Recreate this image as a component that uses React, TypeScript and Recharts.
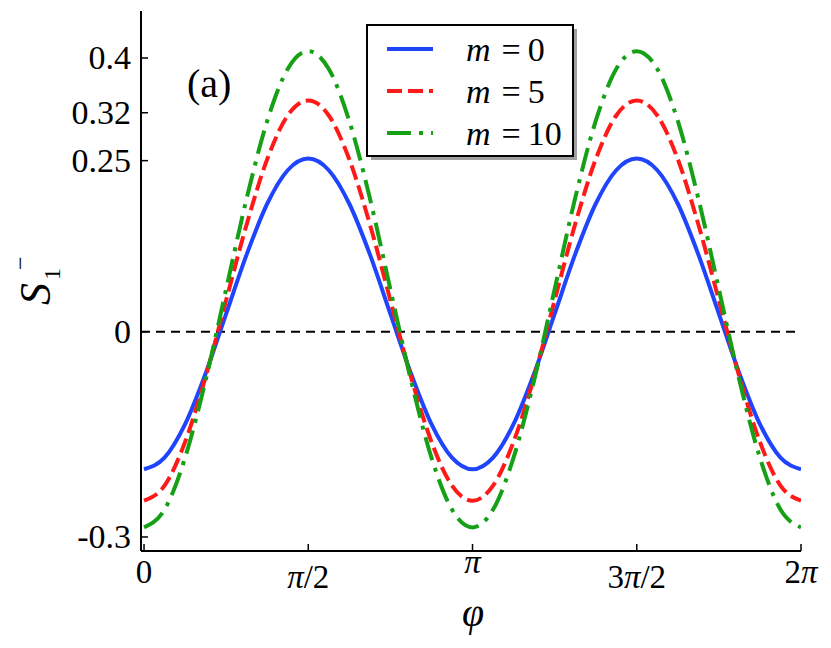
import React from 'react';
import { LineChart, Line, XAxis, YAxis, ReferenceLine } from 'recharts';

const SERIF = 'Liberation Serif, Times New Roman, DejaVu Serif, serif';

// phi samples, step pi/16
const phi = [
  0, 0.196, 0.393, 0.589, 0.785, 0.982, 1.178, 1.374, 1.571, 1.767, 1.963,
  2.16, 2.356, 2.553, 2.749, 2.945, 3.142, 3.338, 3.534, 3.731, 3.927, 4.123,
  4.32, 4.516, 4.712, 4.909, 5.105, 5.301, 5.498, 5.694, 5.89, 6.087, 6.283,
];

const sM0 = [
  -0.201, -0.184, -0.135, -0.061, 0.026, 0.113, 0.187, 0.236, 0.253, 0.236, 0.187,
  0.113, 0.026, -0.061, -0.135, -0.184, -0.201, -0.184, -0.135, -0.061, 0.026, 0.113,
  0.187, 0.236, 0.253, 0.236, 0.187, 0.113, 0.026, -0.061, -0.135, -0.184, -0.201,
];

const sM5 = [
  -0.247, -0.225, -0.161, -0.066, 0.046, 0.157, 0.252, 0.316, 0.338, 0.316, 0.252,
  0.157, 0.046, -0.066, -0.161, -0.225, -0.247, -0.225, -0.161, -0.066, 0.046, 0.157,
  0.252, 0.316, 0.338, 0.316, 0.252, 0.157, 0.046, -0.066, -0.161, -0.225, -0.247,
];

const sM10 = [
  -0.286, -0.26, -0.184, -0.071, 0.062, 0.195, 0.308, 0.384, 0.41, 0.384, 0.308,
  0.195, 0.062, -0.071, -0.184, -0.26, -0.286, -0.26, -0.184, -0.071, 0.062, 0.195,
  0.308, 0.384, 0.41, 0.384, 0.308, 0.195, 0.062, -0.071, -0.184, -0.26, -0.286,
];

const mValues = ['0', '5', '10'];

const xTicks = [0, 1.5708, 3.1416, 4.7124, 6.2832];
const xTickLabels = ['0', 'π/2', 'π', '3π/2', '2π'];
const yTicks = [-0.3, 0, 0.25, 0.32, 0.4];
const yTickLabels = ['-0.3', '0', '0.25', '0.32', '0.4'];

const data = phi.map((p, i) => ({ phi: p, m0: sM0[i], m5: sM5[i], m10: sM10[i] }));

const seriesKeys = ['m0', 'm5', 'm10'];
const colors = ['#1f45fc', '#ff1a1a', '#16a016'];
const dashes = [undefined, '15 6', '24 8 4 8'];

const X_DOMAIN = [-0.029, 6.2832];
const Y_DOMAIN = [-0.3205, 0.4687];

const renderXTick = (props: any) => {
  const { x, y, payload } = props;
  const i = xTicks.findIndex((t) => Math.abs(t - payload.value) < 1e-6);
  const label = xTickLabels[i] ?? '';
  const dy = label.includes('/') ? 37 : label === 'π' ? 22 : 32;
  const parts = label.split('π');
  return (
    <text x={x} y={y + dy} textAnchor="middle" style={{ fontFamily: SERIF }} fontSize={33} fill="#000">
      {parts.map((p, k) => (
        <React.Fragment key={k}>
          {k > 0 && <tspan fontStyle="italic">π</tspan>}
          {p && <tspan>{p}</tspan>}
        </React.Fragment>
      ))}
    </text>
  );
};

const renderYTick = (props: any) => {
  const { x, y, payload } = props;
  const i = yTicks.findIndex((t) => Math.abs(t - payload.value) < 1e-6);
  return (
    <text x={x} y={y + 11} textAnchor="end" style={{ fontFamily: SERIF }} fontSize={34} fill="#000">
      {yTickLabels[i]}
    </text>
  );
};

const renderYLabel = () => (
  <text transform="translate(50, 305) rotate(-90)" style={{ fontFamily: SERIF }} fill="#000">
    <tspan fontSize={44} fontStyle="italic">S</tspan>
    <tspan fontSize={24} dx={3} dy={10}>1</tspan>
    <tspan fontSize={24} dx={-2} dy={-32}>−</tspan>
  </text>
);

const renderXLabel = () => (
  <text x={473} y={626} textAnchor="middle" style={{ fontFamily: SERIF }} fontSize={40} fontStyle="italic" fill="#000">
    φ
  </text>
);

const axisLine = { stroke: '#000', strokeWidth: 2 };
const tickLine = { stroke: '#000', strokeWidth: 1.5 };

export default function App() {
  return (
    <div style={{ position: 'absolute', left: 0, top: 0, width: 831, height: 648, background: '#fff', fontFamily: SERIF }}>
      <LineChart width={831} height={648} data={data} margin={{ top: 11, right: 30, bottom: 37, left: 61 }}>
        <XAxis
          dataKey="phi"
          type="number"
          domain={X_DOMAIN}
          ticks={xTicks}
          interval={0}
          allowDataOverflow
          height={60}
          tickSize={-7}
          tickMargin={7}
          tick={renderXTick}
          axisLine={axisLine}
          tickLine={tickLine}
          label={{ content: renderXLabel }}
        />
        <XAxis
          xAxisId="top"
          orientation="top"
          type="number"
          domain={X_DOMAIN}
          ticks={xTicks}
          interval={0}
          allowDataOverflow
          height={0}
          tickSize={-7}
          tick={false}
          axisLine={axisLine}
          tickLine={tickLine}
        />
        <YAxis
          type="number"
          domain={Y_DOMAIN}
          ticks={yTicks}
          interval={0}
          allowDataOverflow
          width={80}
          tickSize={-7}
          tickMargin={17}
          tick={renderYTick}
          axisLine={axisLine}
          tickLine={tickLine}
          label={{ content: renderYLabel }}
        />
        <YAxis
          yAxisId="right"
          orientation="right"
          type="number"
          domain={Y_DOMAIN}
          ticks={yTicks}
          interval={0}
          allowDataOverflow
          width={0}
          tickSize={-7}
          tick={false}
          axisLine={axisLine}
          tickLine={tickLine}
        />
        <ReferenceLine y={0} stroke="#000" strokeWidth={2} strokeDasharray="9 6" />
        {seriesKeys.map((k, i) => (
          <Line
            key={k}
            dataKey={k}
            type="monotone"
            stroke={colors[i]}
            strokeWidth={4}
            strokeDasharray={dashes[i]}
            dot={false}
            activeDot={false}
            isAnimationActive={false}
          />
        ))}
      </LineChart>
      <svg width={831} height={648} style={{ position: 'absolute', left: 0, top: 0, pointerEvents: 'none', fontFamily: SERIF }}>
        <text x={187} y={97} fontSize={40} fill="#000">(a)</text>
        <rect x={371} y={29} width={206} height={131} fill="#a0a0a0" />
        <rect x={367} y={25} width={206} height={131} fill="#fff" stroke="#000" strokeWidth={2} />
        {mValues.map((m, i) => {
          const cy = 49 + i * 42;
          return (
            <g key={m}>
              <line x1={387} x2={433} y1={cy} y2={cy} stroke={colors[i]} strokeWidth={4} strokeDasharray={dashes[i]} />
              <text x={466} y={cy + 12} fontSize={34} fill="#000">
                <tspan fontStyle="italic">m</tspan>
                <tspan dx={11}>=</tspan>
                <tspan dx={7}>{m}</tspan>
              </text>
            </g>
          );
        })}
      </svg>
    </div>
  );
}
